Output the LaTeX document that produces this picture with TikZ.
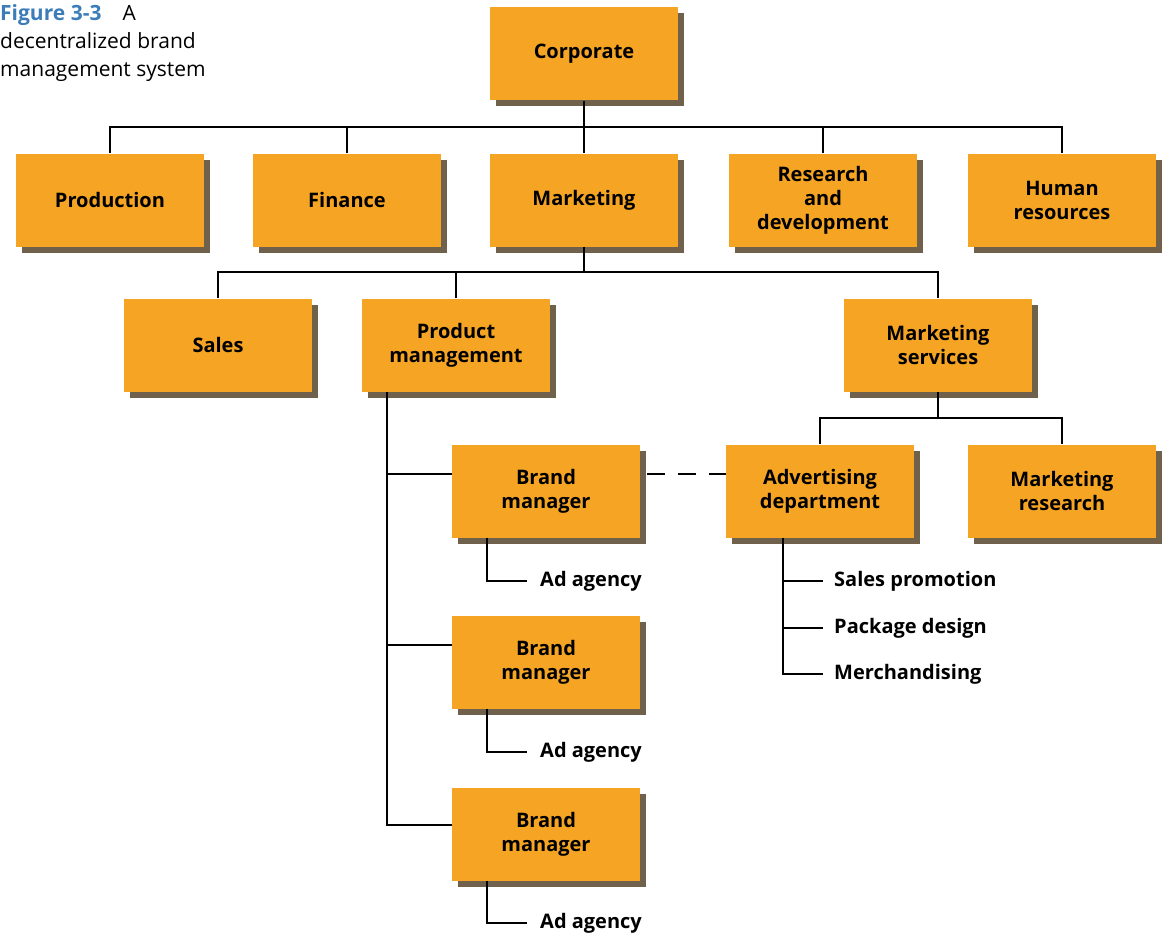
\documentclass[tikz,border=0pt]{standalone}
\usepackage{fontspec}
\setmainfont{Open Sans}
\usetikzlibrary{shadows}
\definecolor{boxorange}{RGB}{245,165,35}
\definecolor{shadowbrown}{RGB}{95,80,55}
\definecolor{figblue}{RGB}{60,125,185}
\tikzset{
  orgbox/.style={draw=none, fill=boxorange, minimum width=188pt, minimum height=93pt,
    align=center, font=\fontsize{20}{24}\selectfont\bfseries, inner sep=2pt,
    drop shadow={shadow xshift=6pt, shadow yshift=-6pt, fill=shadowbrown, opacity=0.9}},
  leaf/.style={anchor=west, inner sep=0pt, font=\fontsize{20}{24}\selectfont\bfseries},
  conn/.style={line width=2pt, black},
}
\begin{document}
\begin{tikzpicture}[x=1pt, y=-1pt]
\useasboundingbox (0,0) rectangle (1169,939);
% title
\node[anchor=north west, inner sep=0pt, align=left, font=\fontsize{21}{28}\selectfont] (title) at (0,4)
  {{\color{figblue}\bfseries Figure 3-3}\quad A\\decentralized brand\\management system};
% boxes
\node[orgbox] (corp) at (584,54) {Corporate};
\node[orgbox] (prod) at (110,200) {Production};
\node[orgbox] (fin) at (347,200) {Finance};
\node[orgbox] (mkt) at (584,200) {Marketing};
\node[orgbox] (rd) at (823,200) {Research\\and\\development};
\node[orgbox] (hr) at (1062,200) {Human\\resources};
\node[orgbox] (sales) at (218,345) {Sales};
\node[orgbox] (pm) at (456,345) {Product\\management};
\node[orgbox] (ms) at (938,345) {Marketing\\services};
\node[orgbox] (bm1) at (546,491) {Brand\\manager};
\node[orgbox] (bm2) at (546,662) {Brand\\manager};
\node[orgbox] (bm3) at (546,834) {Brand\\manager};
\node[orgbox] (adv) at (820,491) {Advertising\\department};
\node[orgbox] (mr) at (1062,491) {Marketing\\research};
% leaves
\node[leaf] (ag1) at (540,581) {Ad agency};
\node[leaf] (ag2) at (540,752) {Ad agency};
\node[leaf] (ag3) at (540,923) {Ad agency};
\node[leaf] (sp) at (834,581) {Sales promotion};
\node[leaf] (pd) at (834,628) {Package design};
\node[leaf] (me) at (834,674) {Merchandising};
% coordinates
\coordinate (bus1) at (584,127);
\coordinate (bus2) at (584,272);
\coordinate (bus3) at (938,418);
\coordinate (pmv) at (387,392);
\coordinate (b1) at ([yshift=17pt]bm1.west);
\coordinate (b2) at ([yshift=17pt]bm2.west);
\coordinate (b3) at ([yshift=9pt]bm3.west);
\coordinate (advv) at ([xshift=-37pt]adv.south);
% connectors level 1
\draw[conn] (prod.north) |- (bus1) -| (hr.north);
\draw[conn] (corp.south) -- (mkt.north);
\draw[conn] (fin.north) -- (fin.north |- bus1);
\draw[conn] (rd.north) -- (rd.north |- bus1);
% level 2
\draw[conn] (sales.north) |- (bus2) -| (ms.north);
\draw[conn] (mkt.south) -- (bus2);
\draw[conn] (pm.north) -- (pm.north |- bus2);
% marketing services
\draw[conn] (adv.north) |- (bus3) -| (mr.north);
\draw[conn] (ms.south) -- (bus3);
% product management
\draw[conn] (pmv) |- (b3);
\draw[conn] (pmv |- b1) -- (b1);
\draw[conn] (pmv |- b2) -- (b2);
% ad agencies
\draw[conn] ([xshift=-59pt]bm1.south) |- ([xshift=-13pt]ag1.west);
\draw[conn] ([xshift=-59pt]bm2.south) |- ([xshift=-13pt]ag2.west);
\draw[conn] ([xshift=-59pt]bm3.south) |- ([xshift=-13pt]ag3.west);
% advertising dept subs
\draw[conn] (advv) |- ([xshift=-11pt]me.west);
\draw[conn] (advv |- sp.west) -- ([xshift=-11pt]sp.west);
\draw[conn] (advv |- pd.west) -- ([xshift=-11pt]pd.west);
% dashed link
\draw[conn, dash pattern=on 18pt off 13pt] ([xshift=7pt]b1 -| bm1.east) -- (b1 -| adv.west);
\end{tikzpicture}
\end{document}
